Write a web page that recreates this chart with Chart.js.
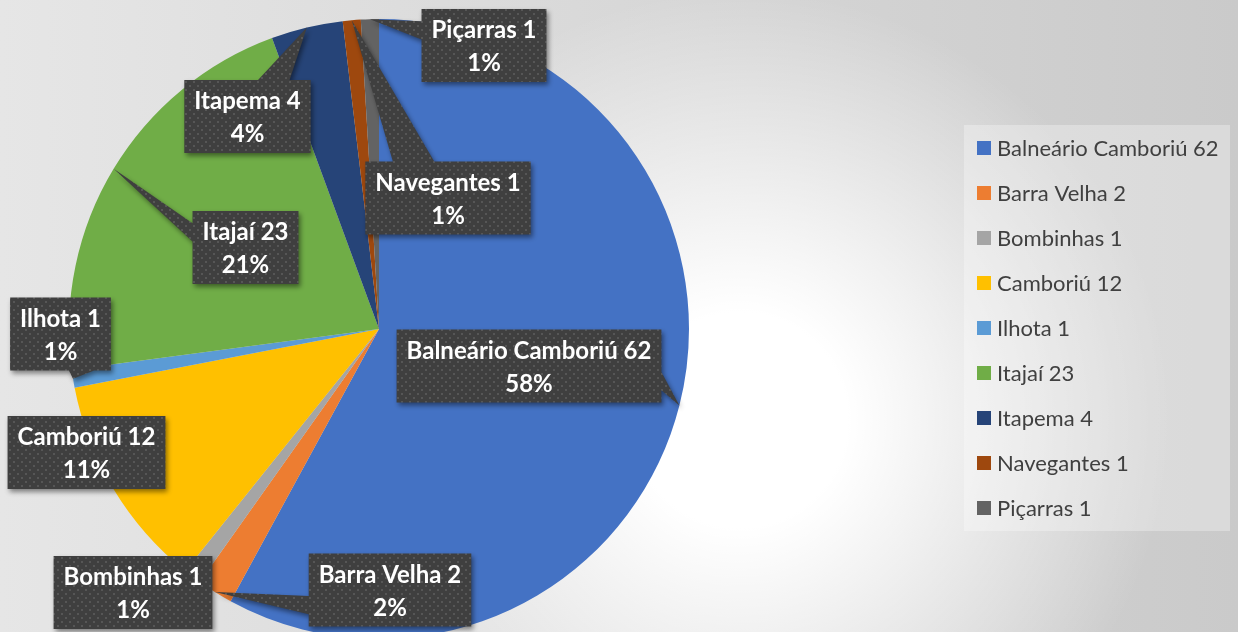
<!DOCTYPE html>
<html>
<head>
<meta charset="utf-8">
<script src="https://cdn.jsdelivr.net/npm/chart.js@4.4.1/dist/chart.umd.min.js"></script>
<style>
  html, body { margin: 0; padding: 0; overflow: hidden; width: 1238px; height: 632px; background: #e0e0e0; }
  #wrap { position: absolute; left: 0; top: 0; width: 1238px; height: 660px; }
</style>
</head>
<body>
<div id="wrap"><canvas id="c" width="1238" height="660"></canvas></div>
<script>
// ---- data ----
const categories = ["Balneário Camboriú", "Barra Velha", "Bombinhas", "Camboriú", "Ilhota", "Itajaí", "Itapema", "Navegantes", "Piçarras"];
const values = [62, 2, 1, 12, 1, 23, 4, 1, 1];
const colors = ["#4472C4", "#ED7D31", "#A5A5A5", "#FFC000", "#5B9BD5", "#70AD47", "#264478", "#9E480E", "#636363"];

// ---- layout (label box centres, pixels) ----
const labelCenters = [
  [529, 366], [390, 590], [133, 592.5], [86.5, 452.5], [60.5, 334],
  [245.5, 247.5], [247.5, 116.5], [448, 198], [484, 45.5]
];

const labels = categories.map((c, i) => c + " " + values[i]);
const total = values.reduce((a, b) => a + b, 0);

function makePattern(ctx) {
  const p = document.createElement('canvas');
  p.width = 8; p.height = 8;
  const g = p.getContext('2d');
  g.fillStyle = '#3f3f3f'; g.fillRect(0, 0, 8, 8);
  g.fillStyle = '#565656';
  g.fillRect(1, 1, 2, 2);
  g.fillRect(5, 5, 2, 2);
  return ctx.createPattern(p, 'repeat');
}

const bgPlugin = {
  id: 'bg',
  beforeDraw(chart) {
    const ctx = chart.ctx, W = chart.width, H = chart.height;
    ctx.save();
    const lg = ctx.createLinearGradient(0, 0, 1238, 0);
    lg.addColorStop(0, '#e6e6e6');
    lg.addColorStop(1, '#cacaca');
    ctx.fillStyle = lg; ctx.fillRect(0, 0, W, H);
    const rg = ctx.createRadialGradient(740, 420, 0, 740, 420, 430);
    rg.addColorStop(0, 'rgba(255,255,255,1)');
    rg.addColorStop(0.25, 'rgba(255,255,255,1)');
    rg.addColorStop(1, 'rgba(255,255,255,0)');
    ctx.fillStyle = rg; ctx.fillRect(0, 0, W, H);
    ctx.restore();
  }
};

const legendPlugin = {
  id: 'customLegend',
  afterDraw(chart) {
    const ctx = chart.ctx;
    ctx.save();
    ctx.fillStyle = 'rgba(255,255,255,0.3)';
    ctx.fillRect(964, 125, 266, 406);
    ctx.font = '22px Lato';
    ctx.textBaseline = 'middle';
    ctx.textAlign = 'left';
    chart.data.labels.forEach((lab, i) => {
      const y = 148 + i * 45;
      ctx.fillStyle = chart.data.datasets[0].backgroundColor[i];
      ctx.fillRect(977, y - 7, 14, 14);
      ctx.fillStyle = '#404040';
      ctx.fillText(lab, 997, y + 1);
    });
    ctx.restore();
  }
};

const calloutPlugin = {
  id: 'callouts',
  afterDatasetsDraw(chart) {
    const ctx = chart.ctx;
    const meta = chart.getDatasetMeta(0);
    const pattern = makePattern(ctx);
    const ds = chart.data.datasets[0];
    ctx.save();
    ctx.font = 'bold 24px Lato';
    meta.data.forEach((arc, i) => {
      const p = arc.getProps(['x', 'y', 'startAngle', 'endAngle', 'outerRadius'], true);
      const mid = (p.startAngle + p.endAngle) / 2;
      const tx = p.x + p.outerRadius * Math.cos(mid);
      const ty = p.y + p.outerRadius * Math.sin(mid);
      const line1 = chart.data.labels[i];
      const line2 = Math.round(ds.data[i] / total * 100) + '%';
      const tw = Math.max(ctx.measureText(line1).width, ctx.measureText(line2).width);
      const w = tw + 20, h = 73;
      const cx = labelCenters[i][0], cy = labelCenters[i][1];
      const l = cx - w / 2, t = cy - h / 2, r = l + w, b = t + h;
      const inside = tx > l - 4 && tx < r + 4 && ty > t - 4 && ty < b + 4;
      const dx = tx - cx, dy = ty - cy;
      let side = null;
      if (!inside) {
        if (Math.abs(dy) > Math.abs(dx) * h / w) side = dy < 0 ? 'top' : 'bottom';
        else side = dx < 0 ? 'left' : 'right';
      }
      const x1 = l + w * (dx > 0 ? 7 : 2) / 12, x2 = l + w * (dx > 0 ? 10 : 5) / 12;
      const y1 = t + h * (dy > 0 ? 7 : 2) / 12, y2 = t + h * (dy > 0 ? 10 : 5) / 12;
      ctx.beginPath();
      ctx.moveTo(l, t);
      if (side === 'top') { ctx.lineTo(x1, t); ctx.lineTo(tx, ty); ctx.lineTo(x2, t); }
      ctx.lineTo(r, t);
      if (side === 'right') { ctx.lineTo(r, y1); ctx.lineTo(tx, ty); ctx.lineTo(r, y2); }
      ctx.lineTo(r, b);
      if (side === 'bottom') { ctx.lineTo(x2, b); ctx.lineTo(tx, ty); ctx.lineTo(x1, b); }
      ctx.lineTo(l, b);
      if (side === 'left') { ctx.lineTo(l, y2); ctx.lineTo(tx, ty); ctx.lineTo(l, y1); }
      ctx.closePath();
      ctx.save();
      ctx.shadowColor = 'rgba(0,0,0,0.45)';
      ctx.shadowBlur = 5;
      ctx.shadowOffsetX = 2;
      ctx.shadowOffsetY = 3;
      ctx.fillStyle = pattern;
      ctx.fill();
      ctx.restore();
      ctx.fillStyle = '#ffffff';
      ctx.textAlign = 'center';
      ctx.textBaseline = 'alphabetic';
      ctx.fillText(line1, cx, t + 29);
      ctx.fillText(line2, cx, t + 62);
    });
    ctx.restore();
  }
};

function build() {
  new Chart(document.getElementById('c'), {
    type: 'pie',
    data: {
      labels: labels,
      datasets: [{ data: values, backgroundColor: colors, borderWidth: 0 }]
    },
    options: {
      responsive: false,
      animation: false,
      layout: { padding: { left: 69, right: 549, top: 19, bottom: 21 } },
      plugins: { legend: { display: false }, tooltip: { enabled: false } }
    },
    plugins: [bgPlugin, calloutPlugin, legendPlugin]
  });
}
if (document.fonts && document.fonts.load) {
  Promise.all([document.fonts.load('bold 24px Lato'), document.fonts.load('22px Lato')]).then(build, build);
} else build();
</script>
</body>
</html>
